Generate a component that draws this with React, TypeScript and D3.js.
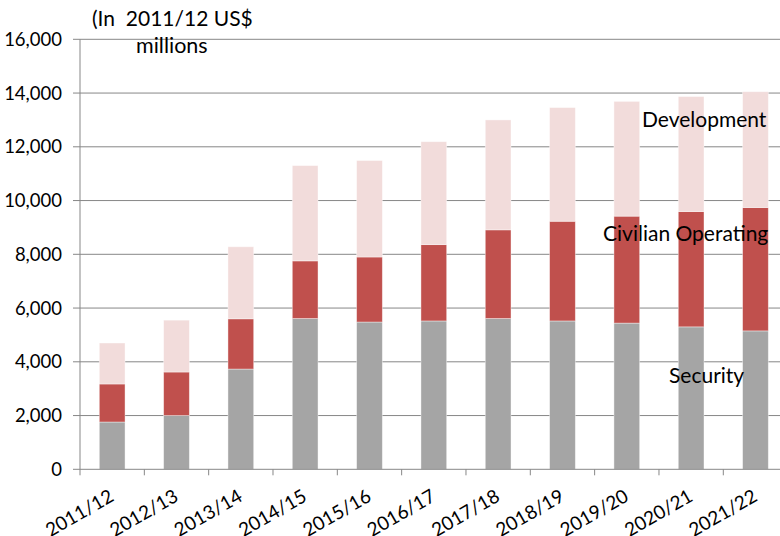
import React from "react";
import * as d3 from "d3";

const categories = ["2011/12","2012/13","2013/14","2014/15","2015/16","2016/17","2017/18","2018/19","2019/20","2020/21","2021/22"];
const security = [1760, 2000, 3730, 5610, 5480, 5520, 5610, 5520, 5440, 5300, 5150];
const civilian = [1415, 1620, 1870, 2145, 2420, 2840, 3300, 3710, 3980, 4290, 4590];
const development = [1525, 1930, 2680, 3545, 3590, 3830, 4090, 4230, 4270, 4280, 4310];
const seriesNames = ["Security", "Civilian Operating", "Development"];
const yTicks = [0, 2000, 4000, 6000, 8000, 10000, 12000, 14000, 16000];

const colors = ["#a5a5a5", "#c0504d", "#f2dcdb"];
const FONT = "Lato, 'Open Sans', sans-serif";

export default function App() {
  const W = 780, H = 536;
  const x0 = 80, bw = 64.33;
  const x = d3.scaleBand<string>().domain(categories).range([x0, x0 + bw * categories.length]).paddingInner(0.6).paddingOuter(0.3);
  const y = d3.scaleLinear().domain([0, 16000]).range([469.3, 39.3]);
  const table = categories.map((c, i) => ({ cat: c, Security: security[i], "Civilian Operating": civilian[i], Development: development[i] }));
  const stack = d3.stack<any>().keys(seriesNames)(table);
  const band = d3.scaleBand<string>().domain(categories).range([x0, x0 + bw * categories.length]);
  const fmt = d3.format(",");
  return (
    <svg width={W} height={H} style={{ position: "absolute", left: 0, top: 0 }} fontFamily={FONT}>
      <rect width={W} height={H} fill="#fff" />
      {yTicks.map(t => (
        <g key={t}>
          {t > 0 && <line x1={x0} x2={W} y1={y(t)} y2={y(t)} stroke="#878787" strokeWidth={1} />}
          <line x1={x0 - 7} x2={x0} y1={y(t)} y2={y(t)} stroke="#878787" />
          <text x={62} y={y(t)} dy="0.36em" textAnchor="end" fontSize={18.5} fill="#000">{fmt(t)}</text>
        </g>
      ))}
      {stack.map((s, si) => (
        <g key={si}>
          {s.map((d, i) => (
            <rect key={i} x={x(categories[i])!} width={x.bandwidth()} y={y(d[1])} height={y(d[0]) - y(d[1])}
              fill={colors[si]} stroke="#ffffff" strokeOpacity={0.5} strokeWidth={0.8} />
          ))}
        </g>
      ))}
      <line x1={x0} x2={x0} y1={y(16000)} y2={y(0)} stroke="#878787" />
      <line x1={x0} x2={W} y1={y(0)} y2={y(0)} stroke="#878787" />
      {categories.map((c) => (
        <line key={"t" + c} x1={band(c)!} x2={band(c)!} y1={y(0)} y2={y(0) + 6} stroke="#878787" />
      ))}
      {categories.map(c => {
        const cx = band(c)! + band.bandwidth() / 2 + 3;
        const cy = 500;
        return (
          <text key={c} x={cx} y={cy} textAnchor="end" fontSize={19} transform={`rotate(-30 ${cx} ${cy})`}>{c}</text>
        );
      })}
      <text x={92} y={26} fontSize={21} style={{ whiteSpace: "pre" }}>{"(In  2011/12 US$"}</text>
      <text x={136} y={53} fontSize={21.5}>millions</text>
      <text x={642} y={127} fontSize={21}>Development</text>
      <text x={603} y={241} fontSize={21}>Civilian Operating</text>
      <text x={669} y={383} fontSize={21}>Security</text>
    </svg>
  );
}
